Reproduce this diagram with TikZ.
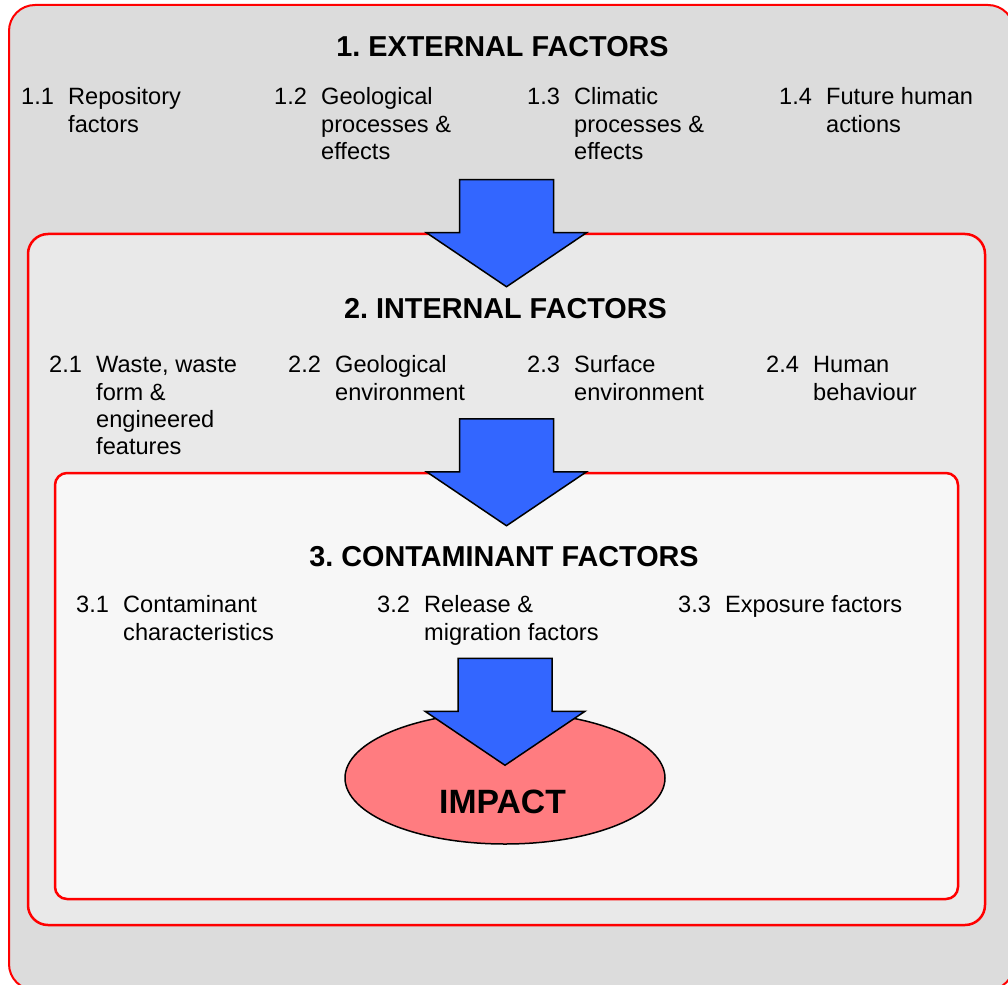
\documentclass[tikz,border=0pt]{standalone}
\usepackage{fontspec}
\setmainfont{Liberation Sans}
\usepackage{tikz}
\usetikzlibrary{calc,shapes.geometric}
\definecolor{greyext}{HTML}{DCDCDC}
\definecolor{greyint}{HTML}{E9E9E9}
\definecolor{greycont}{HTML}{F7F7F7}
\definecolor{framered}{HTML}{FF0000}
\definecolor{arrowblue}{HTML}{3366FF}
\definecolor{impactred}{HTML}{FF7C80}
\frenchspacing
\newcommand{\fitem}[2]{\makebox[47pt][l]{#1}\begin{tabular}[t]{@{}l@{}}#2\end{tabular}}
\newcommand{\downblock}[1]{\draw[blockarrow] ($(#1)+(-47,-53)$) -- ++(94,0) -- ++(0,53) -- ++(33,0) -- ++(-80,54) -- ++(-80,-54) -- ++(33,0) -- cycle;}

\begin{document}
\begin{tikzpicture}[x=1pt,y=-1pt,
    box/.style={draw=framered,rectangle,inner sep=0pt},
    blockarrow/.style={draw=black,fill=arrowblue,line width=1.5pt,line join=miter},
    title/.style={font=\fontsize{28.8}{32}\selectfont\bfseries,anchor=base,inner sep=0pt},
    item/.style={font=\fontsize{23.6}{27.3}\selectfont,anchor=base west,inner sep=0pt}]
        \clip (0,0) rectangle (1008,984);
        \node[box,fill=greyext,line width=2pt,rounded corners=26pt,minimum width=1005pt,minimum height=985pt] (ext) at (511.5,497.5) {};
        \node[box,fill=greyint,line width=2.5pt,rounded corners=20pt,minimum width=957pt,minimum height=691pt] (int) at (506.5,579.5) {};
        \node[box,fill=greycont,line width=2.5pt,rounded corners=12pt,minimum width=903pt,minimum height=426pt] (cont) at (506.5,686) {};
        \downblock{int.north}
        \downblock{cont.north}
        \node[draw=black,fill=impactred,ellipse,line width=1.5pt,inner sep=0pt,minimum width=320pt,minimum height=132pt] (impact) at (505,778) {};
        \downblock{impact.north}

        \node[title] (exttitle) at (502.5,56.7) {1. EXTERNAL FACTORS};
        \node[item] (ext1) at (21,105) {\fitem{1.1}{Repository\\factors}};
        \node[item] (ext2) at (274,105) {\fitem{1.2}{Geological\\processes \&\\effects}};
        \node[item] (ext3) at (527,105) {\fitem{1.3}{Climatic\\processes \&\\effects}};
        \node[item] (ext4) at (779,105) {\fitem{1.4}{Future human\\actions}};

        \node[title] (inttitle) at (505.5,318.3) {2. INTERNAL FACTORS};
        \node[item] (int1) at (49,372.7) {\fitem{2.1}{Waste, waste\\form \&\\engineered\\features}};
        \node[item] (int2) at (288,372.7) {\fitem{2.2}{Geological\\environment}};
        \node[item] (int3) at (527,372.7) {\fitem{2.3}{Surface\\environment}};
        \node[item] (int4) at (766,372.7) {\fitem{2.4}{Human\\behaviour}};

        \node[title] (conttitle) at (504,566) {3. CONTAMINANT FACTORS};
        \node[item] (cont1) at (76,612.7) {\fitem{3.1}{Contaminant\\characteristics}};
        \node[item] (cont2) at (377,612.7) {\fitem{3.2}{Release \&\\migration factors}};
        \node[item] (cont3) at (678,612.7) {\fitem{3.3}{Exposure factors}};

        \node[font=\fontsize{33.7}{36}\selectfont\bfseries,anchor=base,inner sep=0pt] (impacttext) at (502.5,813) {IMPACT};
      \end{tikzpicture}
\end{document}
